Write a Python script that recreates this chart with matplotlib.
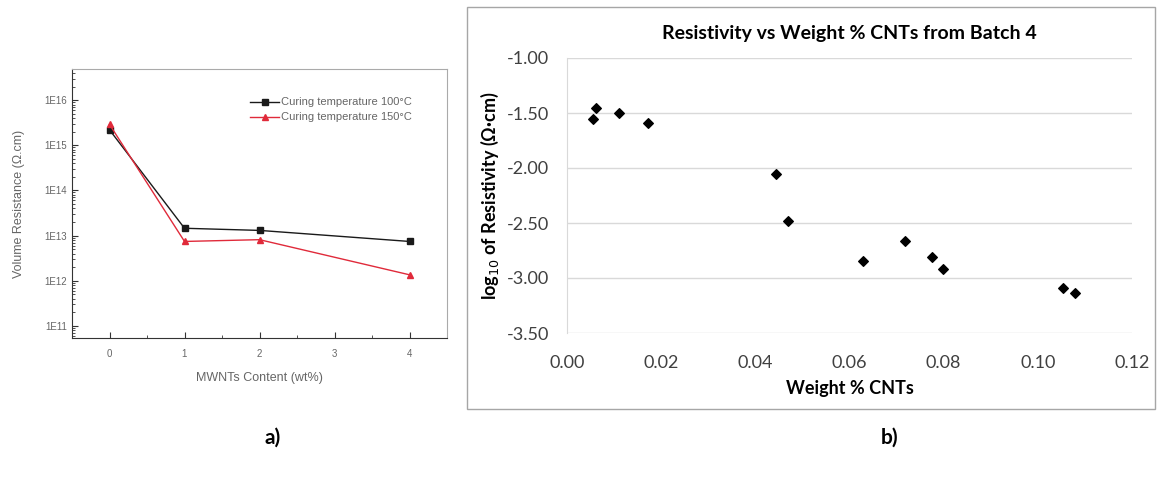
import numpy as np
import matplotlib
matplotlib.use('Agg')
import matplotlib.pyplot as plt
import matplotlib.patches as patches
from matplotlib.ticker import FuncFormatter, LogLocator, MultipleLocator, NullFormatter

# panel a) data
mwnt_content = [0, 1, 2, 4]
res_100c     = [2.2e15, 1.45e13, 1.3e13, 7.4e12]
res_150c     = [2.9e15, 7.4e12, 8.1e12, 1.35e12]

# panel b) data
wt_cnt  = [0.0056, 0.0062, 0.0111, 0.0171, 0.0444, 0.0470,
           0.0629, 0.0718, 0.0775, 0.0799, 0.1054, 0.1079]
log_res = [-1.555, -1.455, -1.497, -1.594, -2.055, -2.482,
           -2.845, -2.661, -2.812, -2.915, -3.094, -3.139]

W, H = 1157, 480
fig = plt.figure(figsize = (W / 100, H / 100), dpi = 100)

def box(l, t, r, b):
    return [l / W, 1 - b / H, (r - l) / W, (b - t) / H]

# ---- a) ----
grey = '#666666'
arial = ['Liberation Sans', 'DejaVu Sans']
ax1 = fig.add_axes(box(72, 69, 447, 338))
ax1.plot(mwnt_content, res_100c, color = '#1a1a1a', lw = 1, marker = 's', ms = 4.5,
         label = 'Curing temperature 100°C')
ax1.plot(mwnt_content, res_150c, color = '#e02a3a', lw = 1, marker = '^', ms = 5,
         label = 'Curing temperature 150°C')
ax1.set_yscale('log')
ax1.set_xlim(-0.5, 4.5)
ax1.set_ylim(10 ** 10.73, 10 ** 16.69)
ax1.yaxis.set_major_locator(LogLocator(base = 10, numticks = 20))
ax1.yaxis.set_minor_locator(LogLocator(base = 10, subs = np.arange(2, 10), numticks = 20))
ax1.yaxis.set_minor_formatter(NullFormatter())
ax1.yaxis.set_major_formatter(FuncFormatter(lambda v, p: '1E%d' % round(np.log10(v))))
ax1.xaxis.set_major_locator(MultipleLocator(1))
ax1.xaxis.set_minor_locator(MultipleLocator(0.5))
ax1.tick_params(which = 'both', direction = 'in', colors = '#333333', labelcolor = grey,
                labelsize = 7)
ax1.tick_params(which = 'major', length = 4)
ax1.tick_params(which = 'minor', length = 2)
ax1.tick_params(axis = 'x', pad = 8)
for lab in ax1.get_xticklabels() + ax1.get_yticklabels():
    lab.set_fontfamily(arial)
for s in ['top', 'right']:
    ax1.spines[s].set_color('#aaaaaa')
for s in ['left', 'bottom']:
    ax1.spines[s].set_color('#333333')
ax1.set_xlabel('MWNTs Content (wt%)', color = grey, fontsize = 9, labelpad = 9, family = arial)
ax1.set_ylabel('Volume Resistance (Ω.cm)', color = grey, fontsize = 9, labelpad = 14,
               family = arial)
ax1.legend(loc = 'upper left', bbox_to_anchor = (0.46, 0.915), frameon = False,
           prop = {'family': arial, 'size': 8}, labelcolor = grey, handlelength = 2.6,
           handletextpad = 0.2, labelspacing = 0.45, borderpad = 0)

# ---- b) ----
fig.patches.append(patches.Rectangle((467 / W, 1 - 409 / H), 688 / W, 402 / H,
                                     transform = fig.transFigure, fill = False,
                                     edgecolor = '#a6a6a6', lw = 1))
ax2 = fig.add_axes(box(567, 58, 1132, 333))
ax2.scatter(wt_cnt, log_res, marker = 'D', s = 24, color = 'black', zorder = 3)
ax2.set_xlim(0, 0.12)
ax2.set_ylim(-3.5, -1.0)
ax2.set_xticks(np.arange(0, 0.121, 0.02))
ax2.set_yticks(np.arange(-3.5, -0.99, 0.5))
ax2.xaxis.set_major_formatter(FuncFormatter(lambda v, p: '%.2f' % v))
ax2.yaxis.set_major_formatter(FuncFormatter(lambda v, p: '%.2f' % v))
ax2.grid(axis = 'y', color = '#d9d9d9', lw = 1)
for s in ['top', 'right', 'bottom']:
    ax2.spines[s].set_visible(False)
ax2.spines['left'].set_color('#d9d9d9')
ax2.tick_params(length = 0, labelsize = 13, labelcolor = '#404040')
ax2.tick_params(axis = 'y', pad = 13)
ax2.tick_params(axis = 'x', pad = 16)
for lab in ax2.get_xticklabels() + ax2.get_yticklabels():
    lab.set_fontfamily('Lato')
ax2.set_xlabel('Weight % CNTs', fontsize = 13, fontweight = 'bold', family = 'Lato',
               labelpad = 6)
ax2.set_ylabel('log$_{10}$ of Resistivity (Ω·cm)', fontsize = 13, fontweight = 'bold',
               family = 'Lato', labelpad = 4)
ax2.set_title('Resistivity vs Weight % CNTs from Batch 4', fontsize = 14,
              fontweight = 'bold', family = 'Lato', pad = 14)

# panel tags
fig.text(273 / W, 1 - 438 / H, 'a)', fontsize = 15, fontweight = 'bold', family = 'Lato',
         ha = 'center', va = 'center')
fig.text(890 / W, 1 - 438 / H, 'b)', fontsize = 15, fontweight = 'bold', family = 'Lato',
         ha = 'center', va = 'center')

fig.savefig('out.png', dpi = 100)
